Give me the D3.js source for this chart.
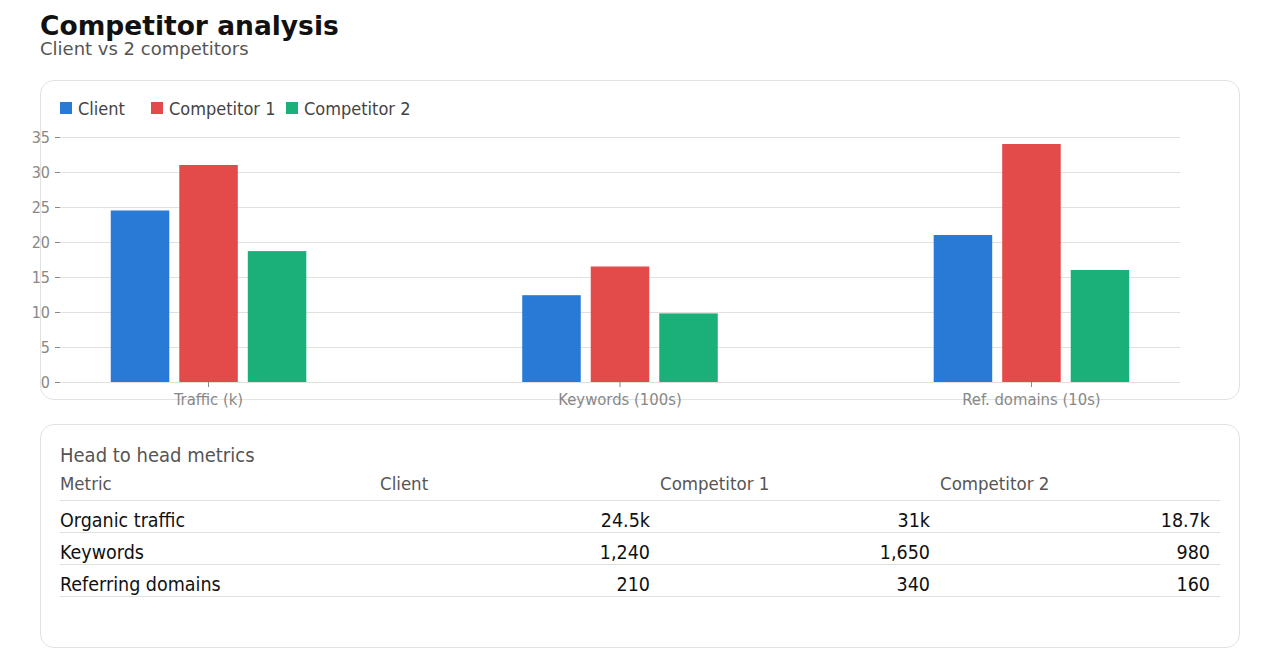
<!DOCTYPE html>
<html>
<head>
<meta charset="utf-8">
<script src="https://cdn.jsdelivr.net/npm/d3@7"></script>
<style>
  html, body { margin: 0; padding: 0; background: #fff; }
  body { width: 1280px; height: 664px; position: relative; overflow: hidden;
         font-family: "DejaVu Sans", sans-serif; }
  .title { position: absolute; left: 40px; top: 14px; font-size: 26.5px; line-height: 24px;
           font-weight: bold; color: #111; }
  .subtitle { position: absolute; left: 40px; top: 40px; font-size: 18px; line-height: 18px; color: #555; }
  .card { position: absolute; left: 40px; width: 1198px; border: 1px solid #e2e2de;
          border-radius: 14px; box-sizing: content-box; }
  #chart { position: absolute; left: 0; top: 0; overflow: visible; }
  .cond { font-family: "DejaVu Sans Condensed", "DejaVu Sans", sans-serif; font-stretch: condensed; }
  .tbl-title { position: absolute; left: 60px; top: 443px; font-size: 20px; color: #555; }
  .cell { position: absolute; font-size: 19.5px; white-space: nowrap; }
  .cell.hdr { font-size: 18.5px; }
</style>
</head>
<body>
<div class="title">Competitor analysis</div>
<div class="subtitle">Client vs 2 competitors</div>
<div class="card" style="top:80px; height:318px;"></div>
<div class="card" style="top:424px; height:222px;"></div>
<svg id="chart" width="1280" height="664"></svg>
<div class="tbl-title cond">Head to head metrics</div>
<div id="table" class="cond"></div>
<script>
// chart data
const categories = ["Traffic (k)", "Keywords (100s)", "Ref. domains (10s)"];
const series = ["Client", "Competitor 1", "Competitor 2"];
const clientVals = [24.5, 12.4, 21];
const comp1Vals = [31, 16.5, 34];
const comp2Vals = [18.7, 9.8, 16];
const colors = ["#2979d6", "#e34a4a", "#1bb07a"];
const yTicks = [0, 5, 10, 15, 20, 25, 30, 35];

// table data
const tableHeaders = ["Metric", "Client", "Competitor 1", "Competitor 2"];
const metricNames = ["Organic traffic", "Keywords", "Referring domains"];
const clientCol = ["24.5k", "1,240", "210"];
const comp1Col = ["31k", "1,650", "340"];
const comp2Col = ["18.7k", "980", "160"];

const values = [clientVals, comp1Vals, comp2Vals];
const condFont = '"DejaVu Sans Condensed", "DejaVu Sans", sans-serif';

const svg = d3.select("#chart");
const plotLeft = 60, plotRight = 1180, plotTop = 137, plotBottom = 382;

const y = d3.scaleLinear().domain([0, 35]).range([plotBottom, plotTop]);
const x0 = d3.scaleBand().domain(categories).range([plotLeft, plotRight])
  .paddingInner(0.278).paddingOuter(0);
const x1 = d3.scaleBand().domain(series).range([0, x0.bandwidth()])
  .paddingInner(0.146).paddingOuter(0.741);

// grid
svg.append("g")
  .selectAll("line")
  .data(yTicks)
  .enter()
  .append("line")
  .attr("x1", plotLeft)
  .attr("x2", plotRight)
  .attr("y1", d => y(d) + 0.5)
  .attr("y2", d => y(d) + 0.5)
  .attr("stroke", "#e0e0dc")
  .attr("stroke-width", 1);

// y axis
const yAxis = svg.append("g")
  .attr("transform", `translate(${plotLeft},0)`)
  .call(d3.axisLeft(y).tickValues(yTicks).tickSize(5).tickPadding(5));
yAxis.select(".domain").remove();
yAxis.selectAll(".tick line").attr("stroke", "#888");
yAxis.selectAll("text").attr("fill", "#888").style("font-size", "16px")
  .style("font-family", condFont).style("font-stretch", "condensed");

// x axis
const xAxis = svg.append("g")
  .attr("transform", `translate(0,${plotBottom})`)
  .call(d3.axisBottom(x0).tickSize(5).tickPadding(6));
xAxis.select(".domain").remove();
xAxis.selectAll(".tick line").attr("stroke", "#888");
xAxis.selectAll("text").attr("fill", "#888").style("font-size", "16.5px")
  .style("font-family", condFont).style("font-stretch", "condensed");

// bars
const groups = svg.append("g")
  .selectAll("g")
  .data(categories)
  .enter()
  .append("g")
  .attr("transform", d => `translate(${x0(d)},0)`);

groups.selectAll("rect")
  .data((c, ci) => series.map((s, si) => ({ s, si, v: values[si][ci] })))
  .enter()
  .append("rect")
  .attr("x", d => x1(d.s))
  .attr("width", x1.bandwidth())
  .attr("y", d => y(d.v))
  .attr("height", d => y(0) - y(d.v))
  .attr("fill", d => colors[d.si]);

// legend
const legendX = [60, 151, 286];
const legend = svg.append("g")
  .selectAll("g")
  .data(series)
  .enter()
  .append("g")
  .attr("transform", (d, i) => `translate(${legendX[i]},102)`);
legend.append("rect").attr("width", 12).attr("height", 12)
  .attr("fill", (d, i) => colors[i]);
legend.append("text").attr("x", 18).attr("y", 12.5)
  .text(d => d)
  .attr("fill", "#444")
  .style("font-size", "18px")
  .style("font-family", condFont).style("font-stretch", "condensed");

// table
const colX = [60, 380, 660, 940];
const colRight = [null, 650, 930, 1210];
const tbl = d3.select("#table");

tbl.selectAll(".hdr")
  .data(tableHeaders)
  .enter()
  .append("div")
  .attr("class", "cell hdr")
  .style("left", (d, i) => colX[i] + "px")
  .style("top", "473px")
  .style("color", "#555")
  .text(d => d);

const lineYs = [500, 532, 564, 596];
tbl.selectAll(".rule")
  .data(lineYs)
  .enter()
  .append("div")
  .attr("class", "rule")
  .style("position", "absolute")
  .style("left", "60px")
  .style("width", "1160px")
  .style("top", d => d + "px")
  .style("height", "1px")
  .style("background", "#e0e0dc");

const rows = metricNames.map((m, i) => [m, clientCol[i], comp1Col[i], comp2Col[i]]);
rows.forEach((r, ri) => {
  tbl.selectAll(".row" + ri)
    .data(r)
    .enter()
    .append("div")
    .attr("class", "cell row" + ri)
    .style("top", (509 + ri * 32) + "px")
    .style("color", "#111")
    .style("left", (d, i) => i === 0 ? colX[0] + "px" : null)
    .style("right", (d, i) => i === 0 ? null : (1280 - colRight[i]) + "px")
    .text(d => d);
});
</script>
</body>
</html>
